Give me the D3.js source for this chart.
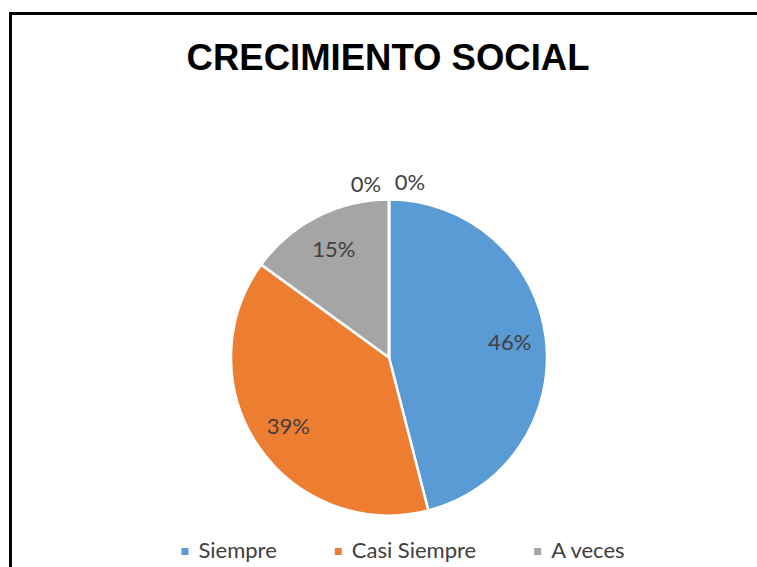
<!DOCTYPE html>
<html><head><meta charset="utf-8">
<script src="https://cdn.jsdelivr.net/npm/d3@7"></script>
<style>html,body{margin:0;padding:0;background:#fff;}svg{display:block;}</style>
</head><body>
<svg id="c" width="757" height="567"></svg>
<script>
const title = "CRECIMIENTO SOCIAL";
const categories = ["Siempre", "Casi Siempre", "A veces", "Casi Nunca", "Nunca"];
const values = [46, 39, 15, 0, 0];
const labels = ["46%", "39%", "15%", "0%", "0%"];
const colors = ["#5B9BD5", "#ED7D31", "#A5A5A5", "#FFC000", "#4472C4"];
const legendShown = ["Siempre", "Casi Siempre", "A veces"];

const svg = d3.select("#c");
const W = 757, H = 567;
svg.append("rect").attr("width", W).attr("height", H).attr("fill", "#fff");

// frame
svg.append("path").attr("d", `M10.5,${H} L10.5,13.5 L${W},13.5`)
  .attr("fill", "none").attr("stroke", "#000").attr("stroke-width", 3);

svg.append("text").attr("x", 388).attr("y", 70).attr("text-anchor", "middle")
  .attr("font-family", "Liberation Sans, Arial, sans-serif").attr("font-weight", "bold")
  .attr("font-size", 36.5).attr("fill", "#000").text(title);

const cx = 389, cy = 357.5, r = 158;
const g = svg.append("g").attr("transform", `translate(${cx},${cy})`);
const pie = d3.pie().value(d => d).sort(null);
const arcs = pie(values);
const arc = d3.arc().innerRadius(0).outerRadius(r);
const labelArc = d3.arc().innerRadius(r * 0.77).outerRadius(r * 0.77);

g.selectAll("path.s").data(arcs).join("path").attr("class", "s")
  .attr("d", arc).attr("fill", (d, i) => colors[i])
  .attr("stroke", "#fff").attr("stroke-width", 2.5).attr("stroke-linejoin", "round");

let zeroIdx = 0;
g.selectAll("text.l").data(arcs).join("text").attr("class", "l")
  .attr("transform", (d, i) => {
    if (d.data === 0) {
      const off = zeroIdx++ === 0 ? -23 : 21;
      const a = d.startAngle;
      return `translate(${Math.sin(a) * r * 1.1 + off},${-Math.cos(a) * r * 1.1 + (off > 0 ? -1.5 : 0)})`;
    }
    const c = labelArc.centroid(d);
    return `translate(${c[0]},${c[1]})`;
  })
  .attr("text-anchor", "middle").attr("dy", "0.36em")
  .attr("font-family", "Lato, sans-serif").attr("font-size", 22).attr("fill", "#404040")
  .text((d, i) => labels[i]);

// legend
const lg = svg.append("g").attr("font-family", "Lato, sans-serif").attr("font-size", 22).attr("fill", "#404040");
const sq = 7, gapText = 10, gapItem = 58;
let x = 0;
legendShown.forEach(name => {
  const idx = categories.indexOf(name);
  const it = lg.append("g").attr("transform", `translate(${x},0)`);
  it.append("rect").attr("x", 0).attr("y", -10).attr("width", sq).attr("height", sq).attr("fill", colors[idx]);
  const t = it.append("text").attr("x", sq + gapText).attr("y", 0).text(name);
  x += sq + gapText + t.node().getComputedTextLength() + gapItem;
});
const w = x - gapItem;
lg.attr("transform", `translate(${403 - w / 2},558)`);
</script>
</body></html>
